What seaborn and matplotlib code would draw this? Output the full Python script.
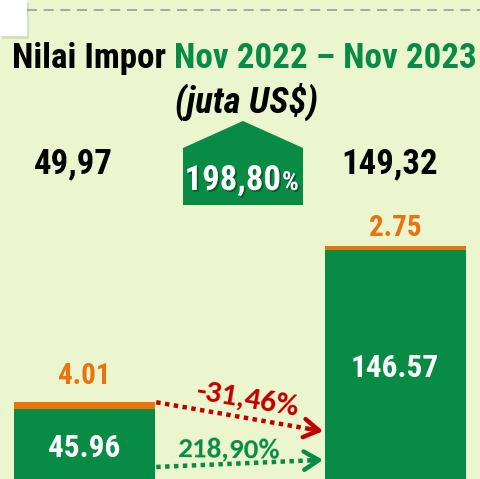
import matplotlib
matplotlib.use("Agg")
import matplotlib.pyplot as plt
import matplotlib.patheffects as pe
from matplotlib.patches import Polygon, Rectangle
import seaborn as sns
import pandas as pd

# ---- data ----
periods = ["Nov 2022", "Nov 2023"]
green_values = [45.96, 146.57]
orange_values = [4.01, 2.75]
green_labels = ["45.96", "146.57"]
orange_labels = ["4.01", "2.75"]
total_labels = ["49,97", "149,32"]
growth_total = "198,80"
change_orange = "-31,46%"
change_green = "218,90%"
title_black = "Nilai Impor"
title_green = "Nov 2022 \u2013 Nov 2023"
subtitle = "(juta US$)"

# ---- style ----
BG = "#EBF5CE"
GREEN = "#078B45"
ORANGE = "#E8730F"
RED = "#C00000"
NARROW = ["Roboto Condensed", "PT Sans Narrow", "DejaVu Sans"]
CAL = ["Carlito", "Lato", "DejaVu Sans"]

sns.set_theme(style="white")
plt.rcParams["font.family"] = NARROW

W, H = 480, 479
fig = plt.figure(figsize=(W / 100, H / 100), dpi=100)
fig.patch.set_facecolor(BG)
ax = fig.add_axes([0, 0, 1, 1])
ax.set_facecolor(BG)

df = pd.DataFrame({
    "period": periods,
    "green": green_values,
    "orange": orange_values,
})
df["total"] = df["green"] + df["orange"]

bw = 0.453
sns.barplot(data=df, x="period", y="total", color=ORANGE, width=bw,
            saturation=1, ax=ax, edgecolor="none")
sns.barplot(data=df, x="period", y="green", color=GREEN, width=bw,
            saturation=1, ax=ax, edgecolor="none")

ax.set_xlim(-0.272, 1.272)
ax.set_ylim(1.27, 305.2)
ax.axis("off")


def fp(x, y):
    """pixel (from top-left) -> figure fraction"""
    return x / W, 1 - y / H


# ---- slide decorations ----
fig.add_artist(Rectangle((2 / W, 1 - 39 / H), 27 / W, 36 / H,
                         transform=fig.transFigure, facecolor="#c9d2b2", edgecolor="none", alpha=0.6))
fig.add_artist(Rectangle(fp(0, 36), 27 / W, 36 / H, transform=fig.transFigure,
                         facecolor="white", edgecolor="none"))
fig.add_artist(plt.Line2D([27 / W, 1], [1 - 10 / H, 1 - 10 / H], transform=fig.transFigure,
                          color="#9a9a9a", lw=1.2, linestyle=(0, (6, 4))))

# ---- titles ----
FS_T = 25.2
t1 = fig.text(*fp(12, 68), title_black, fontsize=FS_T, fontweight="bold", color="black",
              ha="left", va="baseline", family=NARROW)
fig.canvas.draw()
x_end = t1.get_window_extent().x1
fig.text(*fp(x_end + 8, 68), title_green, fontsize=FS_T, fontweight="bold", color=GREEN,
         ha="left", va="baseline", family=NARROW)
fig.text(*fp(247, 113), subtitle, fontsize=26.5, fontweight="bold", style="italic",
         color="black", ha="center", va="baseline", family=NARROW)

# ---- totals ----
for xpix, lab in zip([73, 390], total_labels):
    fig.text(*fp(xpix, 173), lab, fontsize=25, fontweight="bold", color="black",
             ha="center", va="baseline", family=NARROW)

# ---- growth pentagon ----
pent = [(183, 148), (243, 121), (303, 148), (303, 205), (183, 205)]
fig.add_artist(Polygon([fp(x, y) for x, y in pent], closed=True, transform=fig.transFigure,
                       facecolor=GREEN, edgecolor="none"))
shadow = [pe.withSimplePatchShadow(offset=(1.2, -1.2), shadow_rgbFace="black", alpha=0.35)]
fig.text(*fp(281, 190), growth_total, fontsize=25, fontweight="bold", color="white",
         ha="right", va="baseline", family=NARROW, path_effects=shadow)
fig.text(*fp(282, 190), "%", fontsize=19, fontweight="bold", color="white",
         ha="left", va="baseline", family=NARROW, path_effects=shadow)

# ---- bar labels ----
orange_offsets = [12, 4]
for i in range(len(periods)):
    total = df["total"][i]
    ax.annotate(orange_labels[i], xy=(i, total), xytext=(0, orange_offsets[i] * 0.72),
                textcoords="offset points", ha="center", va="bottom",
                fontsize=21, fontweight="bold", color=ORANGE, family=NARROW)
green_label_y = [457, 377]
for i in range(len(periods)):
    fig.text(*fp(84 + i * 311, green_label_y[i]), green_labels[i], fontsize=22.5,
             fontweight="bold", color="white", ha="center", va="baseline", family=NARROW)

# ---- change arrows ----
x0 = 0 + bw / 2
x1 = 1 - bw / 2
red_start, red_end = (x0 + 0.004, df["total"][0]), (x1 - 0.02, 32.0)
grn_start, grn_end = (x0 + 0.004, 8.9), (x1 - 0.02, 13.3)
for (s, e, c) in [(red_start, red_end, RED), (grn_start, grn_end, GREEN)]:
    ax.plot([s[0], e[0]], [s[1], e[1]], color=c, lw=3.2, linestyle=(0, (1, 1)),
            dash_capstyle="butt")
    dx, dy = e[0] - s[0], e[1] - s[1]
    ax.annotate("", xy=(x1 - 0.006, e[1] + dy * 0.02), xytext=(e[0] - dx * 0.05, e[1] - dy * 0.05),
                arrowprops=dict(arrowstyle="->,head_length=0.9,head_width=0.55",
                                color=c, lw=3.2, shrinkA=0, shrinkB=0))

fig.text(*fp(247, 400), change_orange, fontsize=22.5, fontweight="bold", color=RED,
         ha="center", va="center", rotation=-9.5, rotation_mode="anchor", family=CAL)
fig.text(*fp(228, 449), change_green, fontsize=21, fontweight="bold", color=GREEN,
         ha="center", va="center", rotation=-1, rotation_mode="anchor", family=CAL)

fig.savefig("out.png", dpi=100, facecolor=BG)
